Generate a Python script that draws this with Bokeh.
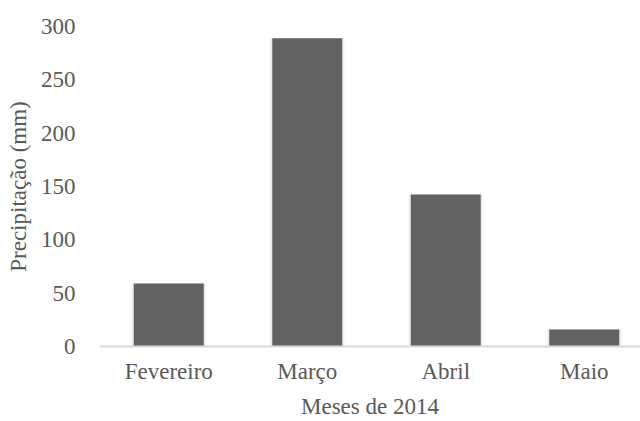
from bokeh.plotting import figure
from bokeh.models import Range1d, FixedTicker, CustomJSTickFormatter
from bokeh.embed import file_html
from bokeh.resources import INLINE

months = ["Fevereiro", "Março", "Abril", "Maio"]
precip = [59, 289, 142.5, 16]
y_ticks = [0, 50, 100, 150, 200, 250, 300]
x_title = "Meses de 2014"
y_title = "Precipitação (mm)"

xs = [i + 1 for i in range(len(months))]

FONT = "Liberation Serif"
TXT = "#595959"
FS = "23px"

p = figure(width=640, height=421, output_backend="svg", toolbar_location=None,
           x_range=Range1d(0.5, 4.406), y_range=Range1d(0, 300),
           min_border_left=99, min_border_right=0, min_border_top=26, min_border_bottom=75)
p.outline_line_color = None
p.background_fill_color = "white"
p.border_fill_color = "white"
p.xgrid.visible = False
p.ygrid.visible = False

# soft shadow
p.vbar(x=xs, top=precip, width=0.54, bottom=0, fill_color="black", fill_alpha=0.04, line_color=None)
p.vbar(x=xs, top=precip, width=0.525, bottom=0, fill_color="black", fill_alpha=0.05, line_color=None)
p.vbar(x=xs, top=precip, width=0.505, bottom=0, fill_color="#626262", line_color=None)

xa = p.xaxis[0]
xa.ticker = FixedTicker(ticks=xs)
xa.formatter = CustomJSTickFormatter(args=dict(names=months),
                                     code="const i = Math.round(tick) - 1; return (i >= 0 && i < names.length) ? names[i] : '';")
xa.axis_line_color = "#d9d9d9"
xa.axis_line_width = 2
xa.major_tick_line_color = None
xa.minor_tick_line_color = None
xa.major_label_text_font = FONT
xa.major_label_text_font_size = FS
xa.major_label_text_color = TXT
xa.major_label_standoff = 6
xa.axis_label = x_title
xa.axis_label_text_font = FONT
xa.axis_label_text_font_size = FS
xa.axis_label_text_color = TXT
xa.axis_label_text_font_style = "normal"
xa.axis_label_standoff = 7

ya = p.yaxis[0]
ya.ticker = FixedTicker(ticks=y_ticks)
ya.axis_line_color = None
ya.major_tick_line_color = None
ya.minor_tick_line_color = None
ya.major_label_text_font = FONT
ya.major_label_text_font_size = FS
ya.major_label_text_color = TXT
ya.major_label_standoff = 18
ya.axis_label = y_title
ya.axis_label_text_font = FONT
ya.axis_label_text_font_size = FS
ya.axis_label_text_color = TXT
ya.axis_label_text_font_style = "normal"
ya.axis_label_standoff = 7

open("out.html", "w").write(file_html(p, INLINE))
